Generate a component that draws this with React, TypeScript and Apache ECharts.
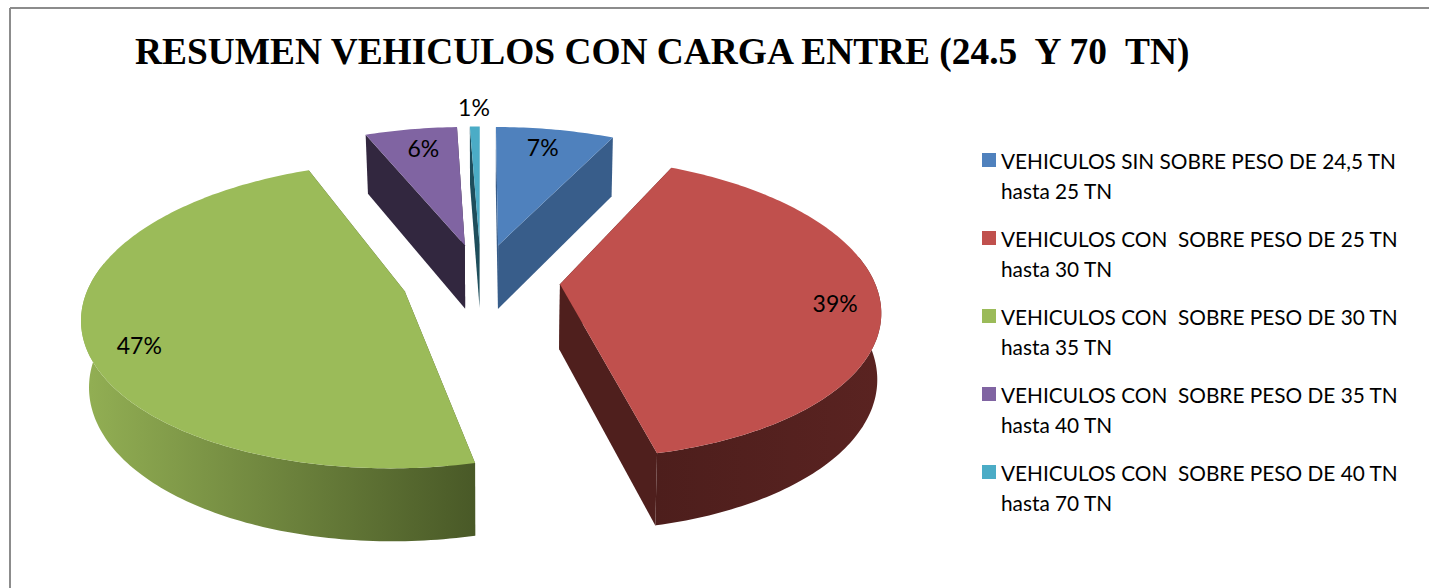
import React, { useEffect, useRef } from "react";
import * as echarts from "echarts";

const categories = [
  "VEHICULOS SIN SOBRE PESO DE 24,5 TN\nhasta 25 TN",
  "VEHICULOS CON  SOBRE PESO DE 25 TN\nhasta 30 TN",
  "VEHICULOS CON  SOBRE PESO DE 30 TN\nhasta 35 TN",
  "VEHICULOS CON  SOBRE PESO DE 35 TN\nhasta 40 TN",
  "VEHICULOS CON  SOBRE PESO DE 40 TN\nhasta 70 TN",
];
const values = [7.2, 39.2, 47.4, 5.6, 0.6];
const topColors = ["#4f81bd", "#c0504d", "#9bbb59", "#8064a2", "#4bacc6"];
const cutColors = ["#385d8a", "#4f1f1d", "#4a5a28", "#32273f", "#1e4e5c"];
const wallLeft = ["#385d8a", "#5a2321", "#93b054", "#32273f", "#1e4e5c"];
const wallRight = ["#385d8a", "#4d1e1c", "#495927", "#32273f", "#1e4e5c"];
const labelRadius = [0.83, 0.86, 0.85, 0.82, 1.19];
const labelShift = [-1, 2, -6, 1, 0];
const titleText = "RESUMEN VEHICULOS CON CARGA ENTRE (24.5  Y 70  TN)";

const CX = 481, CY = 280, RX = 314, RY = 146.2, K = 0.153, EXPLODE = 0.252;
const total = values.reduce((a, b) => a + b, 0);
const rad = (d: number) => (d * Math.PI) / 180;

function project(u: number, v: number) {
  const s = 1 / (1 + K * v);
  return { x: CX + RX * u * s, y: CY - RY * v * s, s };
}
function lower(p: { x: number; y: number; s: number }) {
  const squeeze = p.x > CX ? 0.99 : 0.98;
  return [CX + (p.x - CX) * squeeze, p.y + 25 + 40 * p.s];
}

function renderSlice(params: any) {
  const i = params.seriesIndex;
  const start = (values.slice(0, i).reduce((a, b) => a + b, 0) / total) * 360;
  const end = start + (values[i] / total) * 360;
  const mid = (start + end) / 2;
  const ou = EXPLODE * Math.sin(rad(mid));
  const ov = EXPLODE * Math.cos(rad(mid));
  const at = (a: number, r: number) =>
    project(ou + r * Math.sin(rad(a)), ov + r * Math.cos(rad(a)));

  const angles: number[] = [];
  for (let a = start; a < end; a += 1) angles.push(a);
  angles.push(end);

  const apex = project(ou, ov);
  const arc = angles.map((a) => at(a, 1));
  const top = [[apex.x, apex.y], ...arc.map((p) => [p.x, p.y])];

  const cutWall = (p: { x: number; y: number; s: number }) => ({
    type: "polygon",
    shape: { points: [[apex.x, apex.y], [p.x, p.y], lower(p), lower(apex)] },
    style: { fill: cutColors[i] },
  });

  const children: any[] = [cutWall(arc[0]), cutWall(arc[arc.length - 1])];
  const front = angles.filter((a) => Math.cos(rad(a)) < 0.2).map((a) => at(a, 1));
  if (front.length > 1) {
    children.push({
      type: "polygon",
      shape: {
        points: [
          ...front.map((p) => [p.x, p.y]),
          ...front.slice().reverse().map((p) => lower(p)),
        ],
      },
      style: {
        fill: new echarts.graphic.LinearGradient(0, 0, 1, 0, [
          { offset: 0, color: i === 2 ? wallLeft[i] : wallRight[i] },
          { offset: 1, color: i === 2 ? wallRight[i] : wallLeft[i] },
        ]),
      },
    });
  }
  children.push({ type: "polygon", shape: { points: top }, style: { fill: topColors[i] } });

  const lp = at(mid + labelShift[i], labelRadius[i]);
  children.push({
    type: "text",
    style: {
      text: `${Math.round((values[i] / total) * 100)}%`,
      x: lp.x,
      y: lp.y,
      align: "center",
      verticalAlign: "middle",
      fill: "#000",
      font: "23px Lato",
    },
  });
  return { type: "group", children };
}

export default function App() {
  const ref = useRef<HTMLDivElement>(null);
  useEffect(() => {
    const chart = echarts.init(ref.current!, undefined, { renderer: "svg" });
    chart.setOption({
      animation: false,
      backgroundColor: "#fff",
      title: {
        text: titleText,
        left: 130,
        top: 28,
        textStyle: { fontFamily: "Liberation Serif", fontWeight: "bold", fontSize: 37.4, color: "#000" },
      },
      legend: {
        orient: "vertical",
        left: 977,
        top: 140,
        itemGap: 18,
        itemWidth: 14,
        itemHeight: 44,
        icon: "path://M0 0H14V14H0Z M0 44H0.01V44.01H0Z",
        selectedMode: false,
        textStyle: { fontFamily: "Lato", fontSize: 20.8, lineHeight: 30, color: "#000" },
        data: categories,
      },
      graphic: [
        { type: "line", shape: { x1: 10, y1: 8, x2: 10, y2: 588 }, style: { stroke: "#8c8c8c", lineWidth: 2 } },
        { type: "line", shape: { x1: 10, y1: 8, x2: 1429, y2: 8 }, style: { stroke: "#8c8c8c", lineWidth: 2 } },
      ],
      series: categories.map((name, i) => ({
        type: "custom",
        name,
        coordinateSystem: "none",
        renderItem: renderSlice,
        itemStyle: { color: topColors[i] },
        data: [values[i]],
      })),
    });
    return () => chart.dispose();
  }, []);
  return <div ref={ref} style={{ position: "absolute", left: 0, top: 0, width: 1429, height: 588 }} />;
}
